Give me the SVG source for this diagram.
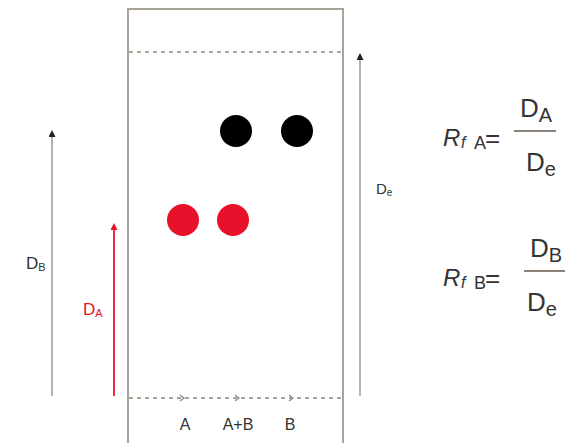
<svg xmlns="http://www.w3.org/2000/svg" width="588" height="443" viewBox="0 0 588 443">
<defs>
<style>
.plate{fill:#fff;stroke:#aaa398;stroke-width:2}
.dash{stroke:#8d877e;stroke-width:1.5;stroke-dasharray:4 4;fill:none}
.tick{stroke:#8d877e;stroke-width:1.2}
.arr{stroke:#b8b3aa;stroke-width:2;fill:none}
.arrR{stroke:#ee2a3e;stroke-width:2;fill:none}
.t{font-family:"Liberation Sans",Arial,sans-serif;fill:#333}
.tr{font-family:"Liberation Sans",Arial,sans-serif;fill:#e8102a}
.bk{fill:#000}
.rd{fill:#e8102a}
</style>
<marker id="ah" markerWidth="7" markerHeight="7" refX="3" refY="3.5" orient="auto" markerUnits="userSpaceOnUse"><path d="M0,0 L7,3.5 L0,7 Z" fill="#222"/></marker>
<marker id="ahr" markerWidth="7" markerHeight="7" refX="3" refY="3.5" orient="auto" markerUnits="userSpaceOnUse"><path d="M0,0 L7,3.5 L0,7 Z" fill="#e8102a"/></marker>
</defs>
<rect width="588" height="443" fill="#fff"/>
<g id="plate">
<rect class="plate" x="128" y="9" width="215" height="440"/>
<line class="dash" x1="129" y1="52" x2="342" y2="52"/>
<line class="dash" x1="129" y1="398" x2="342" y2="398"/>
<path class="tick" d="M180,395 L184,398 L180,401 M235,395 L239,398 L235,401 M289,395 L293,398 L289,401" fill="none"/>
<text class="t" x="185" y="430" font-size="16" text-anchor="middle">A</text>
<text class="t" x="238" y="430" font-size="16" text-anchor="middle">A+B</text>
<text class="t" x="290" y="430" font-size="16" text-anchor="middle">B</text>
</g>
<g id="spots">
<circle class="bk" cx="236" cy="131" r="16"/>
<circle class="bk" cx="297" cy="131" r="16"/>
<circle class="rd" cx="183" cy="220" r="16"/>
<circle class="rd" cx="233" cy="220" r="16"/>
</g>
<g id="connectors">
<line class="arr" x1="52" y1="396" x2="52" y2="134" marker-end="url(#ah)"/>
<line class="arrR" x1="114" y1="396" x2="114" y2="227" marker-end="url(#ahr)"/>
<line class="arr" x1="360" y1="396" x2="360" y2="57" marker-end="url(#ah)"/>
</g>
<g id="labelDB">
<text class="t" x="26" y="269" font-size="17">D<tspan font-size="11" dy="2">B</tspan></text>
</g>
<g id="labelDA">
<text class="tr" x="83" y="315" font-size="17">D<tspan font-size="11" dy="2">A</tspan></text>
</g>
<g id="labelDe">
<text class="t" x="376" y="194" font-size="15">D<tspan font-size="10" dy="2">e</tspan></text>
</g>
<g id="formulaA">
<text class="t" x="443" y="146" font-size="24" font-style="italic">R</text>
<text class="t" x="461" y="148" font-size="16" font-style="italic">f</text>
<text class="t" x="474" y="149" font-size="18">A</text>
<text class="t" x="485" y="147" font-size="26">=</text>
<line x1="514" y1="131" x2="556" y2="131" stroke="#8a8278" stroke-width="2"/>
<text class="t" x="520" y="117" font-size="26">D<tspan font-size="20" dy="5">A</tspan></text>
<text class="t" x="526" y="171" font-size="26">D<tspan font-size="20" dy="5">e</tspan></text>
</g>
<g id="formulaB">
<text class="t" x="443" y="286" font-size="24" font-style="italic">R</text>
<text class="t" x="461" y="288" font-size="16" font-style="italic">f</text>
<text class="t" x="474" y="289" font-size="18">B</text>
<text class="t" x="485" y="287" font-size="26">=</text>
<line x1="524" y1="271" x2="565" y2="271" stroke="#8a8278" stroke-width="2"/>
<text class="t" x="530" y="257" font-size="26">D<tspan font-size="20" dy="5">B</tspan></text>
<text class="t" x="527" y="311" font-size="26">D<tspan font-size="20" dy="5">e</tspan></text>
</g>
</svg>
